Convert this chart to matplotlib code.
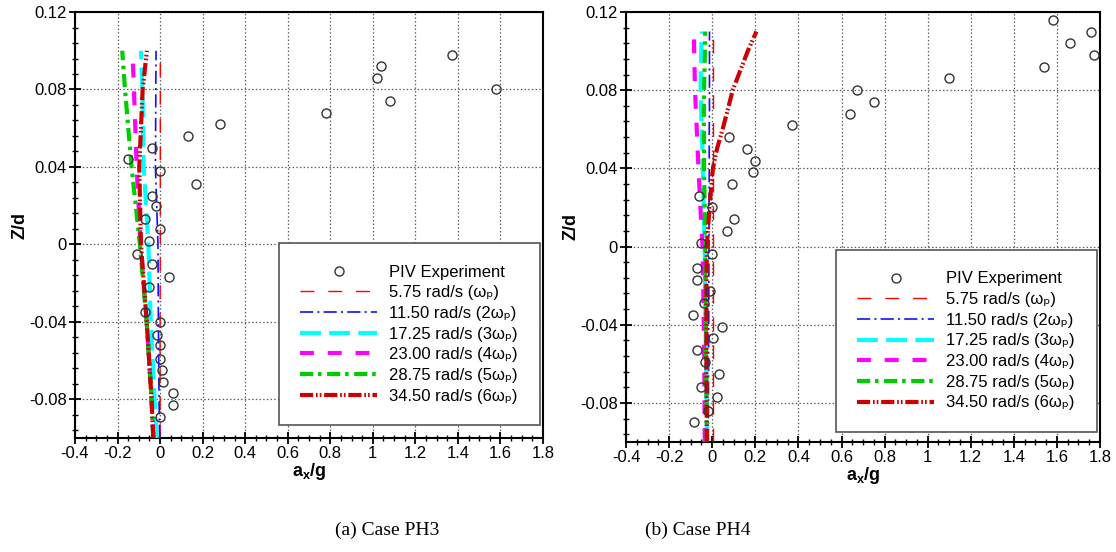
import numpy as np
import matplotlib
matplotlib.use("Agg")
import matplotlib.pyplot as plt
from matplotlib.ticker import MultipleLocator, FuncFormatter

plt.rcParams['font.family'] = ['Liberation Sans', 'DejaVu Sans']
plt.rcParams['mathtext.fontset'] = 'custom'
plt.rcParams['mathtext.rm'] = 'Liberation Sans'
plt.rcParams['mathtext.it'] = 'Liberation Sans:italic'
plt.rcParams['mathtext.bf'] = 'Liberation Sans:bold'
plt.rcParams['lines.scale_dashes'] = False

# ---- dane: przypadek PH3 ----
z_ph3 = [-0.1, -0.08, -0.04, 0.0, 0.04, 0.08, 0.1]
ph3_w1 = [0.0, 0.0, 0.0, 0.001, 0.001, 0.001, 0.001]
ph3_w2 = [-0.002, -0.005, -0.008, -0.010, -0.022, -0.020, -0.019]
ph3_w3 = [-0.016, -0.026, -0.044, -0.055, -0.077, -0.083, -0.090]
ph3_w4 = [-0.032, -0.040, -0.063, -0.092, -0.110, -0.123, -0.130]
ph3_w5 = [-0.032, -0.040, -0.063, -0.095, -0.134, -0.165, -0.178]
ph3_w6 = [-0.032, -0.040, -0.063, -0.090, -0.098, -0.082, -0.062]

ph3_piv_x = [1.37, 1.04, 1.02, 1.58, 1.08, 0.78, 0.28, 0.13, -0.04, -0.15, 0.00, 0.17, -0.04,
             -0.02, -0.07, 0.00, -0.05, -0.11, -0.04, 0.04, -0.05, -0.07, 0.00, -0.015, 0.00,
             0.00, 0.01, 0.015, 0.06, 0.06, 0.00]
ph3_piv_z = [0.098, 0.092, 0.086, 0.080, 0.074, 0.068, 0.062, 0.056, 0.050, 0.044, 0.038, 0.031,
             0.025, 0.020, 0.013, 0.008, 0.002, -0.005, -0.010, -0.017, -0.022, -0.035, -0.040,
             -0.047, -0.052, -0.059, -0.065, -0.071, -0.077, -0.083, -0.089]

# ---- dane: przypadek PH4 ----
z_ph4 = [-0.1, -0.06, -0.02, 0.0, 0.02, 0.04, 0.05, 0.06, 0.07, 0.08, 0.09, 0.1, 0.11]
ph4_w1 = [0.002, 0.002, 0.002, 0.002, 0.002, 0.002, 0.002, 0.002, 0.002, 0.002, 0.002, 0.002, 0.002]
ph4_w2 = [-0.018, -0.017, -0.016, -0.015, -0.015, -0.014, -0.014, -0.014, -0.013, -0.013, -0.013, -0.013, -0.013]
ph4_w3 = [-0.025, -0.029, -0.033, -0.035, -0.040, -0.044, -0.046, -0.049, -0.052, -0.054, -0.053, -0.051, -0.049]
ph4_w4 = [-0.035, -0.037, -0.042, -0.045, -0.055, -0.064, -0.068, -0.072, -0.076, -0.080, -0.082, -0.084, -0.085]
ph4_w5 = [-0.025, -0.028, -0.031, -0.032, -0.035, -0.038, -0.038, -0.039, -0.039, -0.038, -0.036, -0.034, -0.033]
ph4_w6 = [-0.025, -0.027, -0.027, -0.025, -0.013, 0.003, 0.022, 0.048, 0.072, 0.095, 0.130, 0.165, 0.205]

ph4_piv_x = [1.58, 1.76, 1.66, 1.77, 1.54, 1.10, 0.67, 0.75, 0.64, 0.37, 0.08, 0.16, 0.20, 0.19,
             0.09, -0.06, 0.00, 0.10, 0.07, -0.05, 0.00, -0.07, -0.07, -0.01, -0.04, -0.09, 0.045,
             0.005, -0.07, -0.035, 0.03, -0.05, 0.02, -0.02, -0.085]
ph4_piv_z = [0.116, 0.110, 0.104, 0.098, 0.092, 0.086, 0.080, 0.074, 0.068, 0.062, 0.056, 0.050,
             0.044, 0.038, 0.032, 0.026, 0.020, 0.014, 0.008, 0.002, -0.004, -0.011, -0.017,
             -0.023, -0.029, -0.035, -0.041, -0.047, -0.053, -0.059, -0.065, -0.072, -0.077,
             -0.084, -0.090]

etykiety = ['5.75 rad/s (ωₚ)', '11.50 rad/s (2ωₚ)', '17.25 rad/s (3ωₚ)',
            '23.00 rad/s (4ωₚ)', '28.75 rad/s (5ωₚ)', '34.50 rad/s (6ωₚ)']
captions = ['(a) Case PH3', '(b) Case PH4']

# styl linii: kolor, grubosc, kreski (w punktach)
style = [
    ('#ff0000', 1.0, (0, (10, 10))),
    ('#1010ff', 1.2, (0, (9.5, 3, 1.5, 3))),
    ('#00ffff', 3.0, (0, (15, 6))),
    ('#ff00ff', 3.0, (0, (10, 10))),
    ('#00cc00', 3.0, (0, (9.5, 3.5, 2.5, 4))),
    ('#cc0000', 3.0, (0, (9.5, 2, 1.2, 1.5, 1.2, 2))),
]

fig = plt.figure(figsize=(11.16, 5.52), dpi=100, facecolor='white')
ax1 = fig.add_axes([0.0672, 0.2065, 0.4194, 0.7717])
ax2 = fig.add_axes([0.5610, 0.1993, 0.4247, 0.7790])


def rysuj(ax, z, serie, px, pz, leg_y):
    uchwyty = []
    for (kol, lw, ls), xs, lab in zip(style, serie, etykiety):
        l, = ax.plot(xs, z, color=kol, lw=lw, linestyle=ls, label=lab, zorder=3)
        uchwyty.append(l)
    p, = ax.plot(px, pz, 'o', linestyle='none', mfc='none', mec='#333333', mew=1.0, ms=6.5,
                 label='PIV Experiment', zorder=4)
    ax.set_xlim(-0.4, 1.8)
    ax.set_ylim(-0.1, 0.12)
    ax.xaxis.set_major_locator(MultipleLocator(0.2))
    ax.xaxis.set_minor_locator(MultipleLocator(0.05))
    ax.yaxis.set_major_locator(MultipleLocator(0.04))
    ax.yaxis.set_minor_locator(MultipleLocator(0.008))
    fmt = FuncFormatter(lambda v, pos: '0' if abs(v) < 1e-9 else ('%g' % round(v, 3)))
    ax.xaxis.set_major_formatter(fmt)
    ax.yaxis.set_major_formatter(fmt)
    ax.tick_params(which='major', direction='inout', length=8, width=1.3, labelsize=12, pad=2)
    ax.tick_params(which='minor', direction='inout', length=5, width=1.0)
    ax.grid(True, which='major', color='#555555', linestyle=':', lw=0.9)
    for s in ax.spines.values():
        s.set_linewidth(1.5)
    ax.set_xlabel('$\\mathbf{a_x}$/g', fontsize=13, fontweight='bold', labelpad=0)
    ax.set_ylabel('Z/d', fontsize=13, fontweight='bold', labelpad=0)
    lg = ax.legend([p] + uchwyty, ['PIV Experiment'] + etykiety, loc='lower right',
                   bbox_to_anchor=(0.993, leg_y), borderaxespad=0, numpoints=1, fontsize=12,
                   handlelength=4.6, handletextpad=0.75, labelspacing=0.34, borderpad=1.3,
                   fancybox=False, framealpha=1.0, edgecolor='#555555')
    lg.get_frame().set_linewidth(1.2)
    lg.set_zorder(5)


rysuj(ax1, z_ph3, [ph3_w1, ph3_w2, ph3_w3, ph3_w4, ph3_w5, ph3_w6], ph3_piv_x, ph3_piv_z, 0.03)
rysuj(ax2, z_ph4, [ph4_w1, ph4_w2, ph4_w3, ph4_w4, ph4_w5, ph4_w6], ph4_piv_x, ph4_piv_z, 0.023)

fig.text(0.347, 0.04, captions[0], ha='center', va='center', fontsize=14, family='Liberation Serif')
fig.text(0.625, 0.04, captions[1], ha='center', va='center', fontsize=14, family='Liberation Serif')

fig.savefig('out.png', dpi=100, facecolor='white')
